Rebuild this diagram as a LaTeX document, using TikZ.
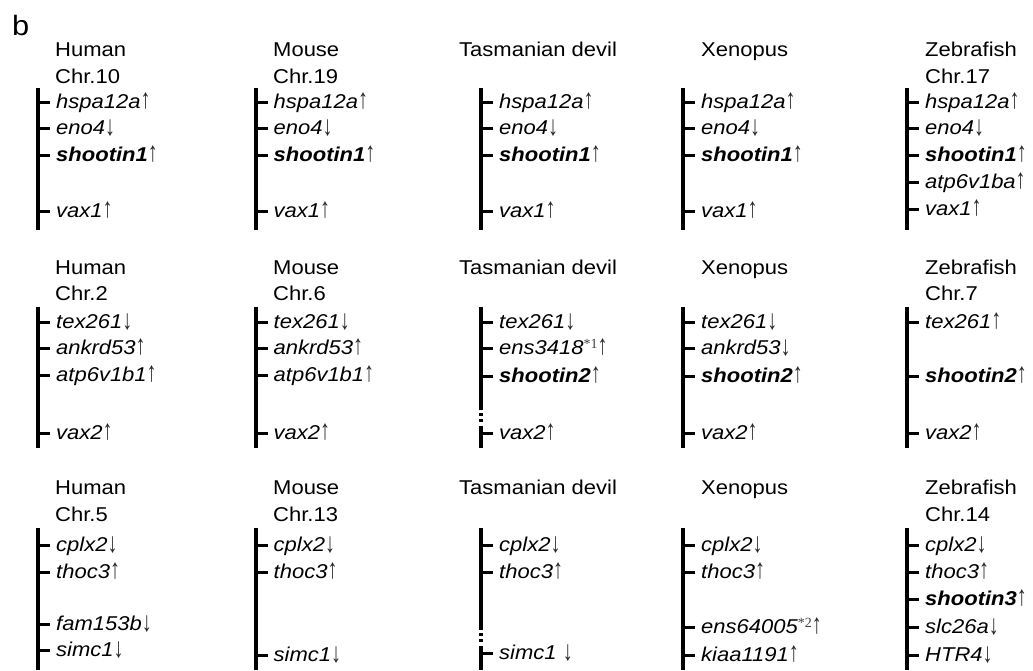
\documentclass[tikz,border=0pt]{standalone}
\usepackage{graphicx}
\usepackage{fontspec}
\setmainfont{Liberation Sans}[FakeStretch=1.1]
\newfontfamily\supfont{Liberation Serif}
\newfontfamily\arrfont{Liberation Sans}
\tikzset{
  x=1pt, y=-1pt,
  lbl/.style={anchor=base west, inner sep=0pt, font=\fontsize{20}{24}\selectfont},
  gene/.style={anchor=base west, inner sep=0pt, font=\fontsize{20}{24}\selectfont\itshape},
  chrbar/.style={line width=4pt},
  tickln/.style={line width=3pt},
}
\newcommand\gup{{\upshape\arrfont\fontsize{20}{20}\selectfont\color{black!85}\smash{\scalebox{1}[1.4]{↑}}}}
\newcommand\gdn{{\upshape\arrfont\fontsize{20}{20}\selectfont\color{black!85}\smash{\raisebox{-1pt}{\scalebox{1}[1.4]{↓}}}}}
\newcommand\gsh[1]{\textbf{#1}}
\newcommand\gsup[1]{{\upshape\supfont\fontsize{14}{14}\selectfont\color{black!75}\smash{\raisebox{6pt}{#1}}}}
% #1 name, #2 bar x, #3 tick y, #4 text
\newcommand\GeneAt[4]{%
  \coordinate (#1t) at (#2,#3);
  \node[gene] (#1) at ({#2+18},{#3+6}) {#4};
  \draw[tickln] (#1t) -- ({#2+12},#3);
}
% #1 name, #2 x, #3 baseline y, #4 text
\newcommand\LabAt[4]{\node[lbl] (#1) at (#2,#3) {#4};}
% #1 name, #2 x, #3 top, #4 bottom
\newcommand\BarAt[4]{%
  \coordinate (#1a) at (#2,#3); \coordinate (#1b) at (#2,#4);
  \draw[chrbar] (#1a) -- (#1b);
}
\begin{document}
\begin{tikzpicture}
\useasboundingbox (0,0) rectangle (1033,670);
\node[anchor=base west, inner sep=0pt, font=\fontsize{28}{30}\selectfont] (b) at (12,35) {b};

%% column x
\def\HX{38}\def\MX{255.5}\def\TX{481}\def\XX{683}\def\ZX{907}

%% ---------------- Row 1 ----------------
\LabAt{h1s}{55}{56}{Human}\LabAt{h1c}{55}{83}{Chr.10}
\LabAt{m1s}{273}{56}{Mouse}\LabAt{m1c}{273}{83}{Chr.19}
\LabAt{t1s}{459}{56}{Tasmanian devil}
\LabAt{x1s}{701}{56}{Xenopus}
\LabAt{z1s}{925}{56}{Zebrafish}\LabAt{z1c}{925}{83}{Chr.17}

\BarAt{h1}{\HX}{88}{230}
\GeneAt{h1g1}{\HX}{102}{hspa12a\gup}
\GeneAt{h1g2}{\HX}{128}{eno4\gdn}
\GeneAt{h1g3}{\HX}{155}{\gsh{shootin1}\gup}
\GeneAt{h1g4}{\HX}{211}{vax1\gup}

\BarAt{m1}{\MX}{88}{230}
\GeneAt{m1g1}{\MX}{102}{hspa12a\gup}
\GeneAt{m1g2}{\MX}{128}{eno4\gdn}
\GeneAt{m1g3}{\MX}{155}{\gsh{shootin1}\gup}
\GeneAt{m1g4}{\MX}{211}{vax1\gup}

\BarAt{t1}{\TX}{88}{230}
\GeneAt{t1g1}{\TX}{102}{hspa12a\gup}
\GeneAt{t1g2}{\TX}{128}{eno4\gdn}
\GeneAt{t1g3}{\TX}{155}{\gsh{shootin1}\gup}
\GeneAt{t1g4}{\TX}{211}{vax1\gup}

\BarAt{x1}{\XX}{88}{230}
\GeneAt{x1g1}{\XX}{102}{hspa12a\gup}
\GeneAt{x1g2}{\XX}{128}{eno4\gdn}
\GeneAt{x1g3}{\XX}{155}{\gsh{shootin1}\gup}
\GeneAt{x1g4}{\XX}{211}{vax1\gup}

\BarAt{z1}{\ZX}{88}{230}
\GeneAt{z1g1}{\ZX}{102}{hspa12a\gup}
\GeneAt{z1g2}{\ZX}{128}{eno4\gdn}
\GeneAt{z1g3}{\ZX}{155}{\gsh{shootin1}\gup}
\GeneAt{z1g4}{\ZX}{182}{atp6v1ba\gup}
\GeneAt{z1g5}{\ZX}{209}{vax1\gup}

%% ---------------- Row 2 ----------------
\LabAt{h2s}{55}{274}{Human}\LabAt{h2c}{55}{300}{Chr.2}
\LabAt{m2s}{273}{274}{Mouse}\LabAt{m2c}{273}{300}{Chr.6}
\LabAt{t2s}{459}{274}{Tasmanian devil}
\LabAt{x2s}{701}{274}{Xenopus}
\LabAt{z2s}{925}{274}{Zebrafish}\LabAt{z2c}{925}{300}{Chr.7}

\BarAt{h2}{\HX}{307}{448}
\GeneAt{h2g1}{\HX}{322}{tex261\gdn}
\GeneAt{h2g2}{\HX}{348}{ankrd53\gup}
\GeneAt{h2g3}{\HX}{375}{atp6v1b1\gup}
\GeneAt{h2g4}{\HX}{433}{vax2\gup}

\BarAt{m2}{\MX}{307}{448}
\GeneAt{m2g1}{\MX}{322}{tex261\gdn}
\GeneAt{m2g2}{\MX}{348}{ankrd53\gup}
\GeneAt{m2g3}{\MX}{375}{atp6v1b1\gup}
\GeneAt{m2g4}{\MX}{433}{vax2\gup}

\BarAt{t2}{\TX}{307}{410}
\BarAt{t2d1}{\TX}{413}{416}
\BarAt{t2d2}{\TX}{419}{422}
\BarAt{t2e}{\TX}{426}{448}
\GeneAt{t2g1}{\TX}{322}{tex261\gdn}
\GeneAt{t2g2}{\TX}{348}{ens3418\gsup{*1}\gup}
\GeneAt{t2g3}{\TX}{376}{\gsh{shootin2}\gup}
\GeneAt{t2g4}{\TX}{433}{vax2\gup}

\BarAt{x2}{\XX}{307}{448}
\GeneAt{x2g1}{\XX}{322}{tex261\gdn}
\GeneAt{x2g2}{\XX}{348}{ankrd53\gdn}
\GeneAt{x2g3}{\XX}{376}{\gsh{shootin2}\gup}
\GeneAt{x2g4}{\XX}{433}{vax2\gup}

\BarAt{z2}{\ZX}{307}{448}
\GeneAt{z2g1}{\ZX}{322}{tex261\gup}
\GeneAt{z2g2}{\ZX}{376}{\gsh{shootin2}\gup}
\GeneAt{z2g3}{\ZX}{433}{vax2\gup}

%% ---------------- Row 3 ----------------
\LabAt{h3s}{55}{494}{Human}\LabAt{h3c}{55}{521}{Chr.5}
\LabAt{m3s}{273}{494}{Mouse}\LabAt{m3c}{273}{521}{Chr.13}
\LabAt{t3s}{459}{494}{Tasmanian devil}
\LabAt{x3s}{701}{494}{Xenopus}
\LabAt{z3s}{925}{494}{Zebrafish}\LabAt{z3c}{925}{521}{Chr.14}

\BarAt{h3}{\HX}{528}{670}
\GeneAt{h3g1}{\HX}{545}{cplx2\gdn}
\GeneAt{h3g2}{\HX}{572}{thoc3\gup}
\GeneAt{h3g3}{\HX}{624}{fam153b\gdn}
\GeneAt{h3g4}{\HX}{650}{simc1\gdn}

\BarAt{m3}{\MX}{528}{670}
\GeneAt{m3g1}{\MX}{545}{cplx2\gdn}
\GeneAt{m3g2}{\MX}{572}{thoc3\gup}
\GeneAt{m3g3}{\MX}{655}{simc1\gdn}

\BarAt{t3}{\TX}{528}{630}
\BarAt{t3d1}{\TX}{633}{636}
\BarAt{t3d2}{\TX}{639}{642}
\BarAt{t3e}{\TX}{646}{670}
\GeneAt{t3g1}{\TX}{545}{cplx2\gdn}
\GeneAt{t3g2}{\TX}{572}{thoc3\gup}
\GeneAt{t3g3}{\TX}{653}{simc1 \gdn}

\BarAt{x3}{\XX}{528}{670}
\GeneAt{x3g1}{\XX}{545}{cplx2\gdn}
\GeneAt{x3g2}{\XX}{572}{thoc3\gup}
\GeneAt{x3g3}{\XX}{627}{ens64005\gsup{*2}\gup}
\GeneAt{x3g4}{\XX}{655}{kiaa1191\gup}

\BarAt{z3}{\ZX}{528}{670}
\GeneAt{z3g1}{\ZX}{545}{cplx2\gdn}
\GeneAt{z3g2}{\ZX}{572}{thoc3\gup}
\GeneAt{z3g3}{\ZX}{599}{\gsh{shootin3}\gup}
\GeneAt{z3g4}{\ZX}{627}{slc26a\gdn}
\GeneAt{z3g5}{\ZX}{655}{HTR4\gdn}
\end{tikzpicture}
\end{document}
